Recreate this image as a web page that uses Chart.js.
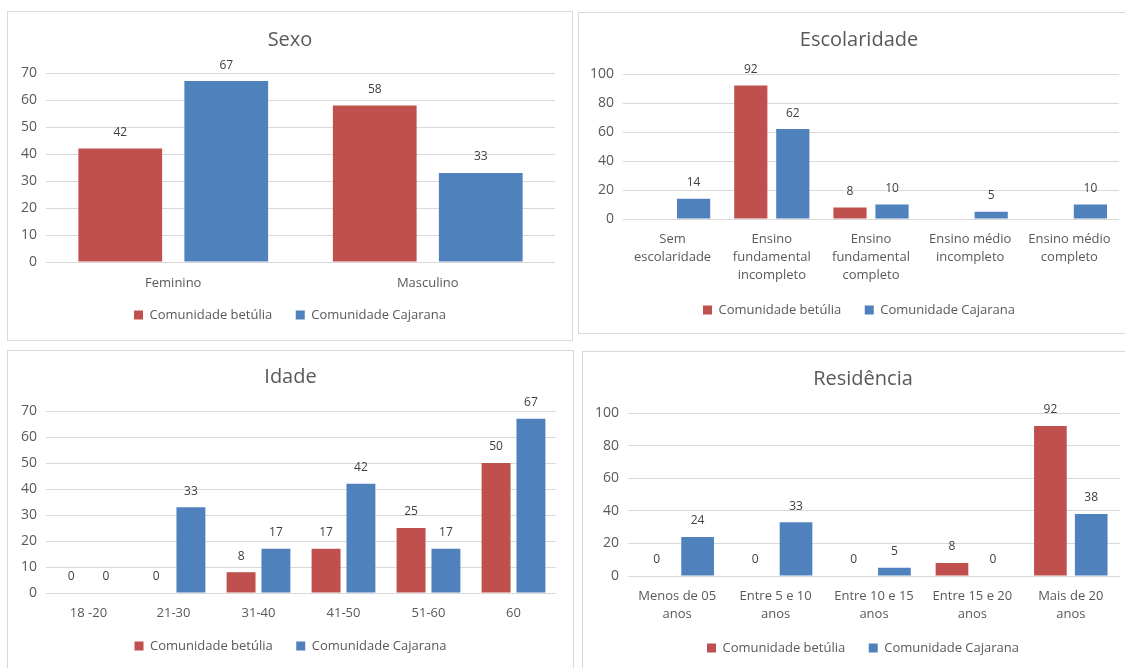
<!DOCTYPE html>
<html>
<head>
<meta charset="utf-8">
<script src="https://cdn.jsdelivr.net/npm/chart.js@4"></script>
<style>
  html, body { margin: 0; padding: 0; background: #fff; overflow: hidden; }
  body { width: 1125px; height: 668px; position: relative; }
  .panel { position: absolute; border: 1px solid #d9d9d9; background: #fff; }
  .panel canvas { display: block; }
</style>
</head>
<body>
<div class="panel" id="p1"><canvas id="sexo"></canvas></div>
<div class="panel" id="p2"><canvas id="escolaridade"></canvas></div>
<div class="panel" id="p3"><canvas id="idade"></canvas></div>
<div class="panel" id="p4"><canvas id="residencia"></canvas></div>
<script>
// data
const seriesNames = ['Comunidade betúlia', 'Comunidade Cajarana'];

const sexoLabels = ['Feminino', 'Masculino'];
const sexoBetulia = [42, 58];
const sexoCajarana = [67, 33];

const escolaridadeLabels = [['Sem', 'escolaridade'], ['Ensino', 'fundamental', 'incompleto'], ['Ensino', 'fundamental', 'completo'], ['Ensino médio', 'incompleto'], ['Ensino médio', 'completo']];
const escolaridadeBetulia = [null, 92, 8, null, null];
const escolaridadeCajarana = [14, 62, 10, 5, 10];

const idadeLabels = ['18 -20', '21-30', '31-40', '41-50', '51-60', '60'];
const idadeBetulia = [0, 0, 8, 17, 25, 50];
const idadeCajarana = [0, 33, 17, 42, 17, 67];

const residenciaLabels = [['Menos de 05', 'anos'], ['Entre 5 e 10', 'anos'], ['Entre 10 e 15', 'anos'], ['Entre 15 e 20', 'anos'], ['Mais de 20', 'anos']];
const residenciaBetulia = [0, 0, 0, 8, 92];
const residenciaCajarana = [24, 33, 5, 0, 38];

const RED = '#c0504d';
const BLUE = '#4f81bd';
const TEXT = '#595959';
const FONT = '"Open Sans", "Noto Sans", sans-serif';

// numbers above the bars (Excel style data labels)
const valueLabels = {
  id: 'valueLabels',
  afterDatasetsDraw(chart) {
    const ctx = chart.ctx;
    ctx.save();
    ctx.font = '12px ' + FONT;
    ctx.fillStyle = '#404040';
    ctx.textAlign = 'center';
    ctx.textBaseline = 'middle';
    chart.data.datasets.forEach((ds, i) => {
      chart.getDatasetMeta(i).data.forEach((bar, j) => {
        const v = ds.data[j];
        if (v === null || v === undefined) return;
        ctx.fillText(String(v), bar.x, bar.y - 16);
      });
    });
    ctx.restore();
  }
};

function makeChart(panelId, canvasId, title, labels, betulia, cajarana, o) {
  const panel = document.getElementById(panelId);
  panel.style.left = o.x + 'px';
  panel.style.top = o.y + 'px';
  panel.style.width = o.w + 'px';
  panel.style.height = o.h + 'px';

  const c = document.getElementById(canvasId);
  c.width = o.w; c.height = o.h;
  c.style.width = o.w + 'px'; c.style.height = o.h + 'px';

  const padR = o.w - o.right;
  const legPad = 10, legFont = 13;
  const legTop = o.legendY - legPad - legFont / 2;
  const legBottom = legTop + legFont + legPad + 10;
  const tickLH = 1.4;

  return new Chart(c, {
    type: 'bar',
    data: {
      labels: labels,
      datasets: [
        { label: seriesNames[0], data: betulia, backgroundColor: RED, borderWidth: 0,
          categoryPercentage: o.cat, barPercentage: o.bar },
        { label: seriesNames[1], data: cajarana, backgroundColor: BLUE, borderWidth: 0,
          categoryPercentage: o.cat, barPercentage: o.bar }
      ]
    },
    options: {
      responsive: false,
      animation: false,
      events: [],
      layout: { padding: { left: 0, right: 0, top: 0, bottom: o.h - legBottom } },
      plugins: {
        title: {
          display: true, text: title, color: TEXT,
          font: { family: FONT, size: 20, weight: 'normal', lineHeight: 1.2 },
          padding: { top: o.titleY - 12, bottom: o.top - o.titleY - 12 }
        },
        legend: {
          position: 'bottom',
          labels: {
            color: TEXT, boxWidth: 9, boxHeight: 9, padding: legPad,
            font: { family: FONT, size: legFont },
            generateLabels: chart => {
              const items = Chart.defaults.plugins.legend.labels.generateLabels(chart);
              // wider gap between the two entries, as in Excel
              items[0].text += '    ';
              return items;
            }
          }
        },
        tooltip: { enabled: false }
      },
      scales: {
        x: {
          grid: { display: false, drawTicks: false },
          border: { display: false },
          ticks: {
            color: TEXT, padding: o.xLabelY - o.bottom - 13 * tickLH / 2,
            font: { family: FONT, size: 13, lineHeight: tickLH },
            maxRotation: 0, autoSkip: false
          },
          afterFit: s => { s.height = legTop - o.bottom; }
        },
        y: {
          min: 0, max: o.yMax,
          grid: { color: '#d9d9d9', drawTicks: false },
          border: { display: false },
          ticks: {
            stepSize: o.yStep, color: TEXT, padding: 9,
            font: { family: FONT, size: 14 }
          },
          afterFit: s => { s.width = o.left; }
        },
        // empty right-hand axis, only keeps the plot off the right border
        spacer: {
          type: 'linear', position: 'right',
          grid: { display: false, drawTicks: false },
          border: { display: false },
          ticks: { display: false },
          afterFit: s => { s.width = padR; }
        }
      }
    },
    plugins: [valueLabels]
  });
}

makeChart('p1', 'sexo', 'Sexo', sexoLabels, sexoBetulia, sexoCajarana,
  { x: 7, y: 11, w: 564, h: 328, left: 38, right: 547, top: 61, bottom: 250,
    titleY: 28, xLabelY: 271, legendY: 303, yMax: 70, yStep: 10, cat: 0.833, bar: 0.79 });

makeChart('p2', 'escolaridade', 'Escolaridade', escolaridadeLabels, escolaridadeBetulia, escolaridadeCajarana,
  { x: 578, y: 12, w: 560, h: 320, left: 44, right: 540, top: 61, bottom: 206,
    titleY: 27, xLabelY: 226, legendY: 297, yMax: 100, yStep: 20, cat: 0.847, bar: 0.79 });

makeChart('p3', 'idade', 'Idade', idadeLabels, idadeBetulia, idadeCajarana,
  { x: 7, y: 350, w: 565, h: 330, left: 38, right: 548, top: 60, bottom: 242,
    titleY: 26, xLabelY: 262, legendY: 295, yMax: 70, yStep: 10, cat: 0.82, bar: 0.83 });

makeChart('p4', 'residencia', 'Residência', residenciaLabels, residenciaBetulia, residenciaCajarana,
  { x: 582, y: 351, w: 560, h: 330, left: 45, right: 537, top: 61, bottom: 224,
    titleY: 27, xLabelY: 244, legendY: 296, yMax: 100, yStep: 20, cat: 0.83, bar: 0.8 });
</script>
</body>
</html>
